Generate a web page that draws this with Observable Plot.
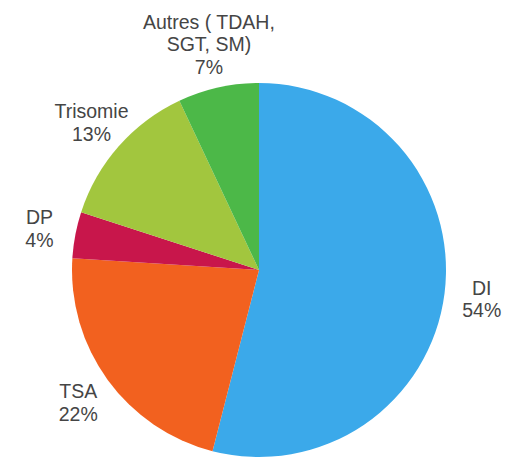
<!DOCTYPE html>
<html>
<head>
<meta charset="utf-8">
<script src="https://cdn.jsdelivr.net/npm/d3@7"></script>
<script src="https://cdn.jsdelivr.net/npm/@observablehq/plot@0.6"></script>
<style>
  html, body { margin: 0; padding: 0; background: #fff; }
  #chart svg { display: block; }
</style>
</head>
<body>
<div id="chart"></div>
<script>
const categories = ["DI", "TSA", "DP", "Trisomie", "Autres ( TDAH,\nSGT, SM)"];
const percents = [54, 22, 4, 13, 7];
const colors = ["#3BA9EA", "#F2611F", "#C8164B", "#A2C63E", "#4CB848"];

const W = 524, H = 460;
const cx = 259, cy = 270, R = 187, labelR = 224;

const data = categories.map((c, i) => ({category: c, value: percents[i]}));
const arcs = d3.pie().sort(null).value(d => d.value)(data);
arcs.forEach(a => { a.data.arc = a; });

// label position: outside the slice, pushed further out for taller (multi-line) labels
function labelPos(d) {
  const lines = d.category.split("\n").length + 1;
  const r = labelR + (lines - 2) * 8;
  return d3.arc().innerRadius(r).outerRadius(r).centroid(d.arc);
}

const pie = Plot.dot(data, {
  x: () => cx,
  y: () => cy,
  fill: "category",
  render(index, scales, values, dimensions, context) {
    const g = d3.select(context.document.createElementNS("http://www.w3.org/2000/svg", "g"));
    const arc = d3.arc().innerRadius(0).outerRadius(R);
    for (const i of index) {
      g.append("path")
        .attr("transform", `translate(${values.x[i]},${values.y[i]})`)
        .attr("d", arc(data[i].arc))
        .attr("fill", values.fill[i]);
    }
    return g.node();
  }
});

const chart = Plot.plot({
  width: W,
  height: H,
  margin: 0,
  x: {type: "identity", axis: null},
  y: {type: "identity", axis: null},
  color: {domain: categories, range: colors},
  style: {fontFamily: "Liberation Sans, Arial, sans-serif", background: "#fff"},
  marks: [
    pie,
    Plot.text(data, {
      x: d => cx + labelPos(d)[0],
      y: d => cy + labelPos(d)[1],
      text: d => `${d.category}\n${d.value}%`,
      fontSize: 19.5,
      lineHeight: 1.15,
      fill: "#454545",
      textAnchor: "middle"
    })
  ]
});
document.getElementById("chart").appendChild(chart);
</script>
</body>
</html>
